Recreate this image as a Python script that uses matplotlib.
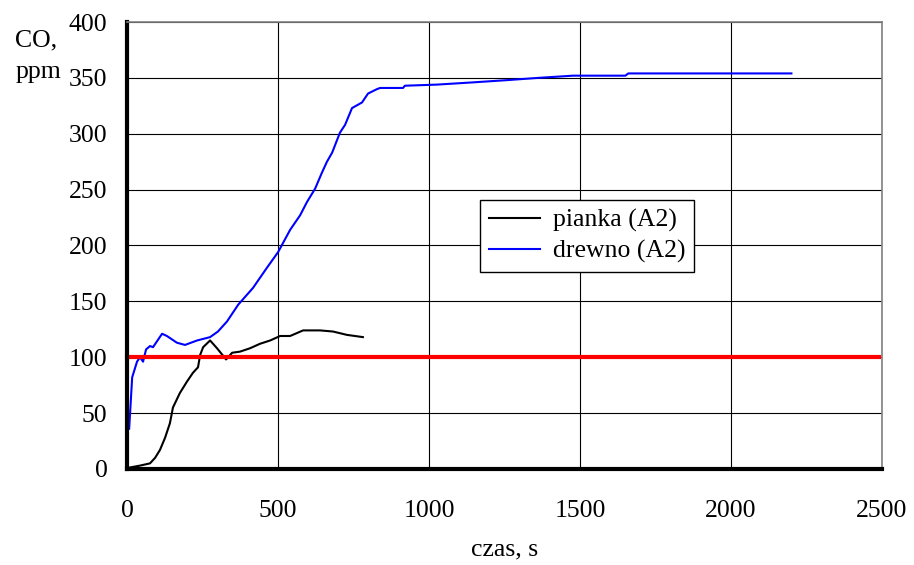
import matplotlib.pyplot as plt

plt.rcParams['font.family'] = ['Liberation Serif', 'DejaVu Serif']

# drewno (A2) - blue curve
t_drewno = [7, 17, 33, 43, 53, 63, 76, 86, 116, 132, 165, 192, 232, 275, 301,
            331, 368, 417, 463, 500, 540, 573, 596, 623, 645, 662, 679, 705,
            722, 745, 778, 798, 828, 838, 914, 920, 1026, 1146, 1258, 1361,
            1477, 1650, 1660, 2200]
co_drewno = [36, 82, 96, 100, 96, 107, 110, 109, 121, 119, 113, 111, 115, 118,
             123, 132, 147, 162, 180, 194, 214, 227, 239, 251, 265, 275, 283,
             301, 308, 323, 328, 336, 340, 341, 341, 343, 344, 346, 348, 350,
             352, 352, 354, 354]

# pianka (A2) - black curve
t_pianka = [3, 43, 76, 93, 109, 126, 142, 152, 175, 198, 218, 235, 242, 252,
            275, 298, 328, 348, 374, 407, 440, 474, 507, 540, 583, 639, 682,
            728, 781]
co_pianka = [1, 3, 5, 10, 17, 28, 41, 55, 68, 78, 86, 91, 102, 109, 115, 108,
             98, 104, 105, 108, 112, 115, 119, 119, 124, 124, 123, 120, 118]

# limit line
t_limit = [0, 2490]
co_limit = [100, 100]

fig = plt.figure(figsize=(9.14, 5.65), dpi=100)
ax = fig.add_axes([0.139, 0.170, 0.826, 0.791])

ax.plot(t_pianka, co_pianka, color='black', lw=1.5, label='pianka (A2)')
ax.plot(t_drewno, co_drewno, color='#0000ff', lw=1.5, label='drewno (A2)')
ax.plot(t_limit, co_limit, color='#ff0000', lw=3, clip_on=False)

ax.set_xlim(0, 2500)
ax.set_ylim(0, 400)
ax.set_xticks(range(0, 2501, 500))
ax.set_yticks(range(0, 401, 50))
ax.grid(True, color='black', lw=0.8)
ax.set_axisbelow(True)

ax.tick_params(axis='both', length=0, labelsize=18.5)
ax.tick_params(axis='y', pad=14)
ax.tick_params(axis='x', pad=22)

for side in ['left', 'bottom']:
    ax.spines[side].set_linewidth(3)
    ax.spines[side].set_color('black')
for side in ['top', 'right']:
    ax.spines[side].set_linewidth(1.2)
    ax.spines[side].set_color('#808080')

ax.set_xlabel('czas, s', fontsize=18.5, labelpad=12)
fig.text(0.040, 0.929, 'CO,', fontsize=18.5, ha='center', va='center')
fig.text(0.042, 0.873, 'ppm', fontsize=18.5, ha='center', va='center')

leg = ax.legend(loc='upper left', bbox_to_anchor=(0.467, 0.602), fontsize=18.5,
                frameon=True, fancybox=False, framealpha=1, edgecolor='black',
                handlelength=2.0, borderpad=0.35, labelspacing=0.3,
                handletextpad=0.5, borderaxespad=0)
leg.get_frame().set_linewidth(1.0)

fig.savefig('out.png', dpi=100)
